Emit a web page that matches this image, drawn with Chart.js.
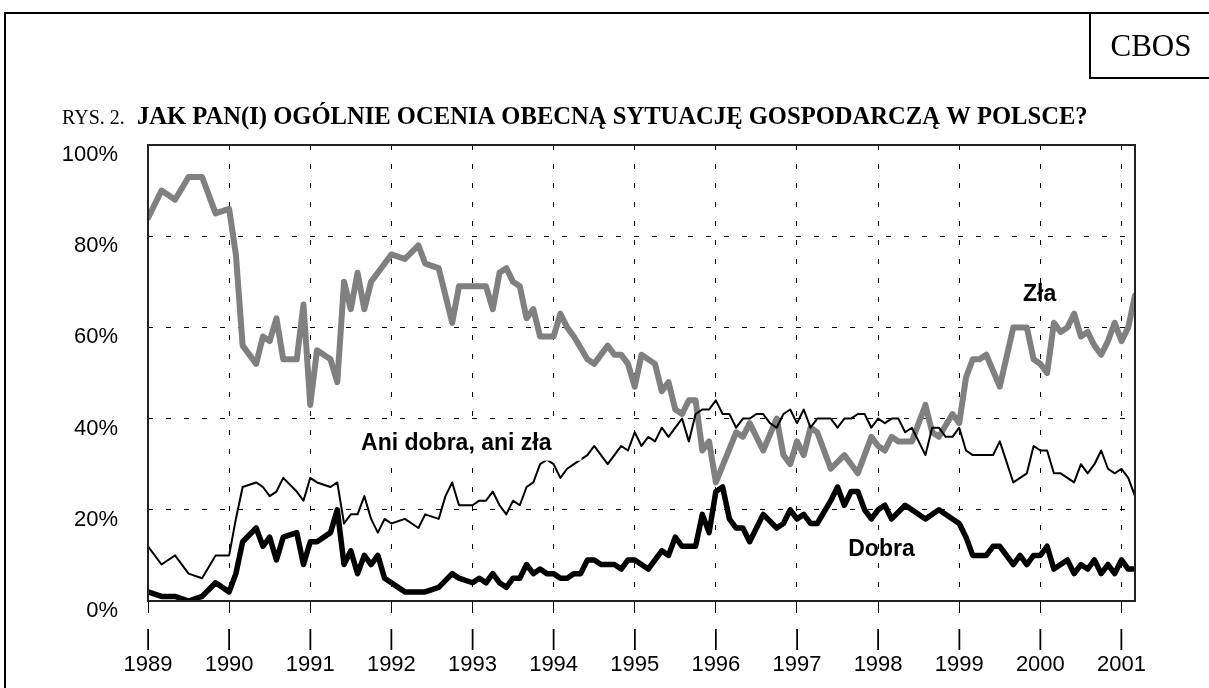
<!DOCTYPE html>
<html>
<head>
<meta charset="utf-8">
<script src="https://cdn.jsdelivr.net/npm/chart.js@4.4.1/dist/chart.umd.min.js"></script>
<style>
  html, body { margin: 0; padding: 0; background: #fff; }
  #wrap { position: relative; width: 1209px; height: 688px; }
</style>
</head>
<body>
<div id="wrap"><canvas id="chart"></canvas></div>
<script>
// x values are months counted from January 1989
const yearLabels = ['1989', '1990', '1991', '1992', '1993', '1994', '1995', '1996', '1997', '1998', '1999', '2000', '2001'];
const yTickLabels = ['0%', '20%', '40%', '60%', '80%', '100%'];
const seriesNames = ['Zła', 'Ani dobra, ani zła', 'Dobra'];

const zlaMonths = [0, 2, 4, 6, 8, 10, 12,
    13, 14, 16, 17, 18, 19, 20, 22, 23, 24,
    25, 27, 28, 29, 30, 31, 32, 33,
    36, 38, 40, 41, 43, 45, 46,
    50, 51, 52, 53, 54, 55, 56, 57, 58,
    60, 61, 62, 63, 65, 66, 68, 69, 70, 71,
    72, 73, 75, 76, 77, 78, 79, 80, 81, 82, 83,
    84, 87, 88, 89, 91, 93, 94, 95,
    96, 97, 98, 99, 101, 103, 105, 107,
    108, 109, 110, 111, 113, 115, 116, 117, 119,
    120, 121, 122, 123, 124, 126, 128, 129, 130, 131,
    132, 133, 134, 135, 136, 137, 138, 139, 140, 141, 142, 143,
    144, 145, 146];
const zlaValues = [84, 90, 88, 93, 93, 85, 86,
    76, 56, 52, 58, 57, 62, 53, 53, 65, 43,
    55, 53, 48, 70, 64, 72, 64, 70,
    76, 75, 78, 74, 73, 61, 69,
    69, 64, 72, 73, 70, 69, 62, 64, 58,
    58, 63, 60, 58, 53, 52, 56, 54, 54, 52,
    47, 54, 52, 46, 48, 42, 41, 44, 44, 33, 35,
    26, 37, 36, 39, 33, 40, 32, 30,
    35, 32, 38, 37, 29, 32, 28, 36,
    34, 33, 36, 35, 35, 43, 37, 36, 41,
    39, 49, 53, 53, 54, 47, 60, 60, 60, 53,
    52, 50, 61, 59, 60, 63, 58, 59, 56, 54, 57, 61,
    57, 60, 67];

const aniMonths = [0, 2, 4, 6, 8, 10, 12,
    13, 14, 16, 17, 18, 19, 20, 22, 23, 24,
    25, 27, 28, 29, 30, 31, 32, 33, 34, 35,
    36, 38, 40, 41, 43, 44, 45, 46,
    48, 49, 50, 51, 52, 53, 54, 55, 56, 57, 58, 59, 60, 61, 62, 63, 64, 65, 66,
    68, 70, 71,
    72, 73, 74, 75, 76, 77, 78, 79, 80, 81, 82, 83, 84, 85, 86, 87, 88, 89, 90, 91, 92, 93, 94, 95, 96, 97, 98, 99,
    101, 102, 103, 104, 105, 106, 107, 108, 109, 110, 111, 112, 113, 114, 115, 116, 117, 118, 119, 120, 121, 122,
    124, 125, 126, 128, 129, 130, 131,
    132, 133, 134, 135, 136, 137, 138, 139, 140, 141, 142, 143, 144, 145, 146];
const aniValues = [12, 8, 10, 6, 5, 10, 10,
    18, 25, 26, 25, 23, 24, 27, 24, 22, 27,
    26, 25, 26, 17, 19, 19, 23, 18, 15, 18,
    17, 18, 16, 19, 18, 23, 26, 21,
    21, 22, 22, 24, 21, 19, 22, 21, 25, 26, 30, 31, 30, 27, 29, 30, 31, 32, 34,
    30, 34, 33,
    37, 34, 36, 35, 38, 36, 38, 40, 35, 41, 42, 42, 44, 41, 41, 38, 40, 40, 41, 41, 39, 38, 41, 42, 39, 42, 38, 40,
    40, 38, 40, 40, 41, 41, 38, 40, 39, 40, 40, 37, 38, 35, 32, 38, 38, 36, 36, 38, 33, 32,
    32, 32, 35, 26, 27, 28, 34,
    33, 33, 28, 28, 27, 26, 30, 28, 30, 33, 29, 28, 29, 27, 23];

const dobraMonths = [0, 2, 4, 6, 8, 10, 12,
    13, 14, 16, 17, 18, 19, 20, 22, 23, 24,
    25, 27, 28, 29, 30, 31, 32, 33, 34, 35,
    38, 41, 43, 45, 46,
    48, 49, 50, 51, 52, 53, 54, 55, 56, 57, 58, 59, 60, 61, 62, 63, 64, 65, 66, 67, 68, 69, 70, 71,
    72, 73, 74, 75, 76, 77, 78, 79, 80, 81, 82, 83, 84, 85, 86, 87, 88, 89,
    91, 93, 94, 95,
    96, 97, 98, 99, 101, 102, 103, 104, 105, 106, 107,
    108, 109, 110, 112, 113, 115, 117, 119,
    120, 121, 122, 124, 125, 126, 128, 129, 130, 131,
    132, 133, 134, 136, 137, 138, 139, 140, 141, 142, 143,
    144, 145, 146];
const dobraValues = [2, 1, 1, 0, 1, 4, 2,
    6, 13, 16, 12, 14, 9, 14, 15, 8, 13,
    13, 15, 20, 8, 11, 6, 10, 8, 10, 5,
    2, 2, 3, 6, 5,
    4, 5, 4, 6, 4, 3, 5, 5, 8, 6, 7, 6, 6, 5, 5, 6, 6, 9, 9, 8, 8, 8, 7, 9,
    9, 8, 7, 9, 11, 10, 14, 12, 12, 12, 19, 15, 24, 25, 18, 16, 16, 13,
    19, 16, 17, 20,
    18, 19, 17, 17, 22, 25, 21, 24, 24, 20, 18,
    20, 21, 18, 21, 20, 18, 20, 18,
    17, 14, 10, 10, 12, 12, 8, 10, 8, 10,
    10, 12, 7, 9, 6, 8, 7, 9, 6, 8, 6,
    9, 7, 7];

// where the series names sit, in axis units [month, percent]
const nameAnchors = [[131.9, 67.2], [45.6, 34.5], [108.5, 11.2]];

function toPoints(months, values) {
    return months.map((m, i) => ({ x: m, y: values[i] }));
}

const sans = '"Liberation Sans", Arial, sans-serif';
const serif = '"Liberation Serif", "Times New Roman", serif';

const pageDecor = {
    id: 'pageDecor',
    beforeDraw(chart) {
        const ctx = chart.ctx;
        ctx.save();
        ctx.fillStyle = '#fff';
        ctx.fillRect(0, 0, chart.width, chart.height);

        // page frame and the CBOS box
        ctx.strokeStyle = '#000';
        ctx.lineWidth = 2;
        ctx.beginPath();
        ctx.moveTo(5, chart.height);
        ctx.lineTo(5, 13);
        ctx.lineTo(chart.width, 13);
        ctx.moveTo(1090, 13);
        ctx.lineTo(1090, 78);
        ctx.lineTo(chart.width, 78);
        ctx.stroke();

        ctx.fillStyle = '#000';
        ctx.textBaseline = 'alphabetic';
        ctx.textAlign = 'center';
        ctx.font = '31px ' + serif;
        ctx.fillText('CBOS', 1151, 56);

        ctx.textAlign = 'left';
        ctx.font = '20px ' + serif;
        ctx.fillText('RYS. 2.', 62, 124);
        ctx.font = 'bold 24.6px ' + serif;
        ctx.fillText('JAK PAN(I) OGÓLNIE OCENIA OBECNĄ SYTUACJĘ GOSPODARCZĄ W POLSCE?', 137, 124);
        ctx.restore();
    },
    afterDatasetsDraw(chart) {
        const ctx = chart.ctx;
        const area = chart.chartArea;
        const xs = chart.scales.x;
        const ys = chart.scales.y;
        ctx.save();

        ctx.font = 'bold 23px ' + sans;
        ctx.textAlign = 'center';
        ctx.textBaseline = 'middle';
        seriesNames.forEach((name, i) => {
            const px = xs.getPixelForValue(nameAnchors[i][0]);
            const py = ys.getPixelForValue(nameAnchors[i][1]);
            if (i === 1) {
                // the text box of this label is opaque
                const w = ctx.measureText(name).width;
                ctx.fillStyle = '#fff';
                ctx.fillRect(px - w / 2 - 30, py - 18, w + 60, 35);
            }
            ctx.fillStyle = '#000';
            ctx.fillText(name, px, py);
        });

        ctx.strokeStyle = '#222';
        ctx.lineWidth = 2;
        ctx.strokeRect(area.left, area.top, area.right - area.left, area.bottom - area.top);
        ctx.restore();
    }
};

const ctx = document.getElementById('chart').getContext('2d');
new Chart(ctx, {
    type: 'line',
    data: {
        datasets: [{
            label: seriesNames[1],
            data: toPoints(aniMonths, aniValues),
            borderColor: '#000',
            borderWidth: 2,
            borderJoinStyle: 'round',
            pointRadius: 0,
            tension: 0
        }, {
            label: seriesNames[2],
            data: toPoints(dobraMonths, dobraValues),
            borderColor: '#000',
            borderWidth: 5.5,
            borderJoinStyle: 'round',
            borderCapStyle: 'round',
            pointRadius: 0,
            tension: 0
        }, {
            label: seriesNames[0],
            data: toPoints(zlaMonths, zlaValues),
            borderColor: '#808080',
            borderWidth: 6,
            borderJoinStyle: 'round',
            borderCapStyle: 'round',
            pointRadius: 0,
            tension: 0
        }]
    },
    options: {
        responsive: true,
        maintainAspectRatio: false,
        animation: false,
        layout: {
            padding: { top: 145, right: 74, left: 0, bottom: 0 }
        },
        plugins: {
            legend: { display: false },
            tooltip: { enabled: false }
        },
        scales: {
            x: {
                type: 'linear',
                min: 0,
                max: 146,
                afterBuildTicks: (scale) => {
                    scale.ticks = yearLabels.map((_, i) => ({ value: i * 12 }));
                },
                afterFit: (scale) => { scale.height = 87; },
                ticks: {
                    autoSkip: false,
                    maxRotation: 0,
                    padding: 13,
                    color: '#000',
                    font: { family: sans, size: 22, lineHeight: 1.18 },
                    callback: (value, index) => ['|', yearLabels[index]]
                },
                grid: {
                    color: (c) => (c.tick && c.tick.value === 0) ? 'rgba(0,0,0,0)' : '#000',
                    lineWidth: 1,
                    drawTicks: true,
                    tickLength: 12,
                    tickColor: '#000',
                    tickWidth: 1,
                    tickBorderDash: []
                },
                border: { display: false, dash: [5, 14] }
            },
            y: {
                min: 0,
                max: 100,
                afterFit: (scale) => { scale.width = 148; },
                ticks: {
                    stepSize: 20,
                    padding: 30,
                    labelOffset: 10,
                    color: '#000',
                    font: { family: sans, size: 22 },
                    callback: (value, index) => yTickLabels[index]
                },
                grid: {
                    color: (c) => (c.tick && (c.tick.value === 0 || c.tick.value === 100)) ? 'rgba(0,0,0,0)' : '#000',
                    lineWidth: 1,
                    drawTicks: false
                },
                border: { display: false, dash: [5, 13] }
            }
        }
    },
    plugins: [pageDecor]
});
</script>
</body>
</html>
